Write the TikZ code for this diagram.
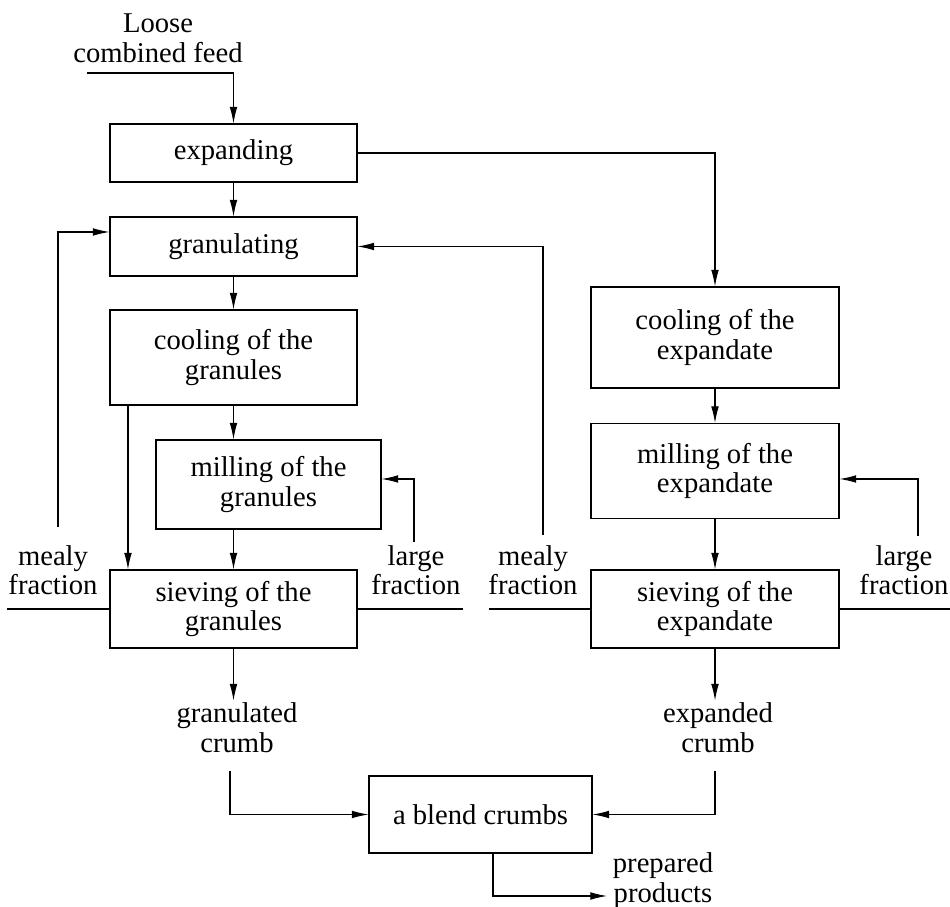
\documentclass[tikz,border=0pt]{standalone}
\usepackage{fontspec}
\setmainfont{Liberation Serif}
\usetikzlibrary{arrows.meta,positioning,calc}

\begin{document}
\begin{tikzpicture}[
    every node/.style={font=\fontsize{16.3}{16.8}\selectfont, align=center, inner sep=1pt},
    stage/.style={draw, line width=0.6pt, minimum width=4.94cm},
    flow/.style={line width=0.6pt, -{Latex[length=9.5pt,width=4.4pt]}},
    plain/.style={line width=0.6pt}
]
    \useasboundingbox (0,0) rectangle (19,18.14);

    % Granule line
    \node[stage, minimum height=1.16cm] (expanding) at (4.67,15.08) {expanding};
    \node[stage, minimum height=1.18cm] (granulating) at (4.67,13.21) {granulating};
    \node[stage, minimum height=1.90cm] (coolgran) at (4.67,10.99) {cooling of the\\granules};
    \node[stage, minimum width=4.50cm, minimum height=1.78cm] (millgran) at (5.37,8.45) {milling of the\\granules};
    \node[stage, minimum height=1.56cm] (sievegran) at (4.67,5.96) {sieving of the\\granules};

    % Expandate line
    \node[stage, minimum width=4.96cm, minimum height=2.02cm] (coolexp) at (14.30,11.39) {cooling of the\\expandate};
    \node[stage, minimum width=4.96cm, minimum height=1.90cm] (millexp) at (14.30,8.72) {milling of the\\expandate};
    \node[stage, minimum width=4.96cm, minimum height=1.56cm] (sieveexp) at (14.30,5.96) {sieving of the\\expandate};

    % Blending
    \node[stage, minimum width=4.46cm, minimum height=1.54cm] (blend) at (9.61,1.85) {a blend crumbs};

    % Labels
    \node (feed) at (3.16,17.37) {Loose\\combined feed};
    \node (mealyL) at (1.06,6.74) {mealy\\fraction};
    \node (largeL) at (8.32,6.74) {large\\fraction};
    \node (mealyR) at (10.66,6.74) {mealy\\fraction};
    \node (largeR) at (18.08,6.74) {large\\fraction};
    \node (gcrumb) at (4.74,3.59) {granulated\\crumb};
    \node (ecrumb) at (14.36,3.59) {expanded\\crumb};
    \node (products) at (13.26,0.53) {prepared\\products};

    % Free ends
    \coordinate (feedin) at (1.74,16.68);
    \coordinate (mealyLtop) at (1.16,7.60);
    \coordinate (largeLtop) at (8.28,7.30);
    \coordinate (mealyRtop) at (10.86,7.44);
    \coordinate (largeRtop) at (18.36,7.42);
    \coordinate (mealyLend) at (0.14,5.96);
    \coordinate (largeLend) at (9.26,5.96);
    \coordinate (mealyRend) at (9.78,5.96);
    \coordinate (largeRend) at (19.00,5.96);
    \coordinate (gcrumbout) at (4.60,2.72);
    \coordinate (ecrumbout) at (14.30,2.72);
    \coordinate (prodin) at (12.14,0.22);

    % Main flow
    \draw[flow] (feedin) -| (expanding.north);
    \draw[flow] (expanding) -- (granulating);
    \draw[flow] (expanding.east) -| (coolexp.north);
    \draw[flow] (granulating) -- (coolgran);
    \draw[flow] (coolgran.south) -- (coolgran.south |- millgran.north);
    \draw[flow] ($(coolgran.south west)+(0.37,0)$) -- ($(sievegran.north west)+(0.37,0)$);
    \draw[flow] (millgran.south -| sievegran.north) -- (sievegran.north);
    \draw[flow] (coolexp) -- (millexp);
    \draw[flow] (millexp) -- (sieveexp);

    % Returns
    \draw[flow] (mealyLtop) |- ($(granulating.west)+(0,0.29)$);
    \draw[flow] (largeLtop) |- ($(millgran.east)+(0,0.11)$);
    \draw[flow] (mealyRtop) |- (granulating.east);
    \draw[flow] (largeRtop) |- ($(millexp.east)+(0,-0.16)$);

    % Sieve outlets
    \draw[plain] (sievegran.west) -- (mealyLend);
    \draw[plain] (sievegran.east) -- (largeLend);
    \draw[plain] (sieveexp.west) -- (mealyRend);
    \draw[plain] (sieveexp.east) -- (largeRend);

    % Crumbs and blend
    \draw[flow] (sievegran.south) -- (sievegran.south |- gcrumb.north);
    \draw[flow] (sieveexp.south) -- (sieveexp.south |- ecrumb.north);
    \draw[flow] (gcrumbout) |- (blend.west);
    \draw[flow] (ecrumbout) |- (blend.east);
    \draw[flow] ($(blend.south)+(0.25,0)$) |- (prodin);
\end{tikzpicture}
\end{document}
